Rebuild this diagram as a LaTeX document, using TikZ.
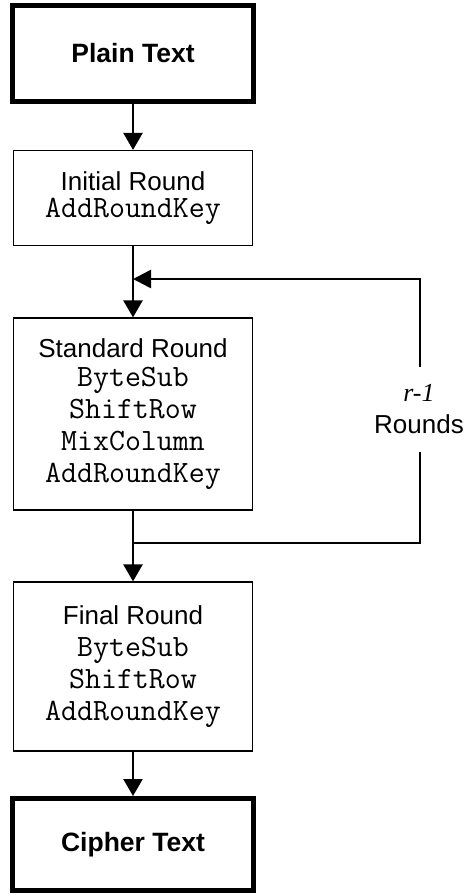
\documentclass[tikz,border=0pt]{standalone}
\usepackage{fontspec}
\setmainfont{Liberation Sans}
\newfontfamily\varfont{Liberation Serif}
\usetikzlibrary{arrows.meta}

% operation names in a typewriter face
\newcommand{\op}[1]{{\ttfamily\fontsize{31}{32}\selectfont #1}}

\tikzset{
  stagebox/.style={draw, line width=1.2pt, minimum width=239pt, inner sep=0pt,
    align=center, font=\fontsize{26}{32}\selectfont},
  endbox/.style={draw, line width=5pt, minimum width=241pt, inner sep=0pt,
    align=center, font=\bfseries\fontsize{26.5}{31}\selectfont},
  conn/.style={line width=2.5pt},
  flow/.style={conn, -{Triangle[width=19pt,length=17pt]}},
  lbl/.style={inner sep=0pt, align=center, font=\fontsize{26}{32}\selectfont}
}

\begin{document}
\begin{tikzpicture}[x=1pt, y=-1pt]
  \useasboundingbox (0,0) rectangle (467,895);

  % main chain of rounds
  \node[endbox, minimum height=96pt] (plain) at (133,53.5) {Plain Text};
  \node[stagebox, minimum height=95pt] (init) at (133,198)
    {Initial Round\\[-5pt]\op{AddRoundKey}};
  \node[stagebox, minimum height=192pt] (std) at (133,414)
    {Standard Round\\[-3pt]\op{ByteSub}\\\op{ShiftRow}\\\op{MixColumn}\\\op{AddRoundKey}};
  \node[stagebox, minimum height=169pt] (fin) at (133,666.5)
    {Final Round\\\op{ByteSub}\\\op{ShiftRow}\\\op{AddRoundKey}};
  \node[endbox, minimum height=92pt] (ciph) at (133,844.5) {Cipher Text};

  \draw[flow] (plain) -- (init);
  \draw[flow] (init) -- (std);
  \draw[flow] (std) -- (fin);
  \draw[flow] (fin) -- (ciph);

  % loop back over the standard round
  \coordinate (jt) at (133,279);
  \coordinate (jb) at (133,543);
  \coordinate (rt) at (420,279);
  \coordinate (rb) at (420,543);
  \node[lbl, minimum height=85pt] (rounds) at (419,409.5)
    {{\varfont\itshape r-1}\\Rounds};

  \draw[conn] (rounds.south -| rb) -- (rb) -- (jb);
  \draw[conn, -{Triangle[width=18pt,length=18pt]}] (rounds.north -| rt) -- (rt) -- (jt);
\end{tikzpicture}
\end{document}
